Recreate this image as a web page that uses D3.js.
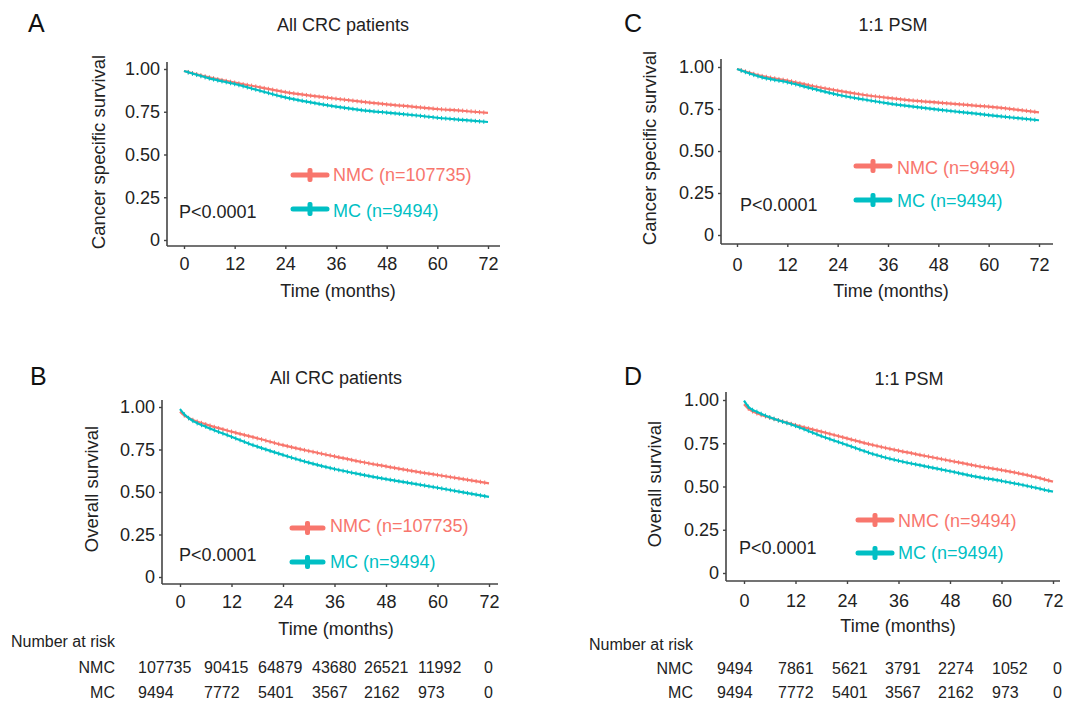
<!DOCTYPE html>
<html>
<head>
<meta charset="utf-8">
<script src="https://cdn.jsdelivr.net/npm/d3@7"></script>
<style>
  html, body { margin: 0; padding: 0; background: #fff; }
  svg { display: block; font-family: "Liberation Sans", Arial, Helvetica, sans-serif; }
</style>
</head>
<body>
<svg id="chart" width="1067" height="702"></svg>
<script>
// ---------------- DATA ----------------
const groups = ["NMC", "MC"];
const xTicks = [0, 12, 24, 36, 48, 60, 72];
const yTicks = [0, 0.25, 0.5, 0.75, 1];

// Cancer specific survival (panels A, C): months
const timesCSS = [0, 6, 12, 18, 24, 30, 36, 42, 48, 54, 60, 66, 72];
// Overall survival (panels B, D): months
const timesOS = [0, 1, 3, 6, 12, 18, 24, 30, 36, 42, 48, 54, 60, 66, 72];

// Panel A – All CRC patients, cancer specific survival
const cssAllNMC = [0.988, 0.951, 0.920, 0.893, 0.865, 0.844, 0.826, 0.809, 0.793, 0.780, 0.766, 0.756, 0.743];
const cssAllMC  = [0.988, 0.945, 0.912, 0.873, 0.834, 0.805, 0.780, 0.760, 0.745, 0.731, 0.715, 0.702, 0.690];
// Panel C – 1:1 PSM, cancer specific survival
const cssPsmNMC = [0.988, 0.946, 0.919, 0.887, 0.859, 0.835, 0.816, 0.800, 0.788, 0.776, 0.764, 0.748, 0.730];
const cssPsmMC  = [0.988, 0.938, 0.909, 0.871, 0.835, 0.808, 0.784, 0.764, 0.746, 0.730, 0.714, 0.698, 0.683];
// Panel B – All CRC patients, overall survival
const osAllNMC = [0.973, 0.950, 0.924, 0.898, 0.855, 0.816, 0.776, 0.741, 0.710, 0.678, 0.651, 0.624, 0.600, 0.576, 0.551];
const osAllMC  = [0.988, 0.957, 0.918, 0.884, 0.825, 0.767, 0.718, 0.673, 0.635, 0.604, 0.576, 0.551, 0.525, 0.498, 0.471];
// Panel D – 1:1 PSM, overall survival
const osPsmNMC = [0.975, 0.950, 0.923, 0.898, 0.855, 0.817, 0.778, 0.740, 0.707, 0.678, 0.649, 0.620, 0.595, 0.566, 0.528];
const osPsmMC  = [0.996, 0.961, 0.932, 0.900, 0.850, 0.792, 0.740, 0.688, 0.649, 0.618, 0.588, 0.557, 0.532, 0.503, 0.470];

// Number at risk tables
const riskAllNMC = ["107735", "90415", "64879", "43680", "26521", "11992", "0"];
const riskAllMC  = ["9494", "7772", "5401", "3567", "2162", "973", "0"];
const riskPsmNMC = ["9494", "7861", "5621", "3791", "2274", "1052", "0"];
const riskPsmMC  = ["9494", "7772", "5401", "3567", "2162", "973", "0"];

// Legend labels
const legendAll = ["NMC (n=107735)", "MC (n=9494)"];
const legendPsm = ["NMC (n=9494)", "MC (n=9494)"];

// ---------------- STYLE ----------------
const colors = { NMC: "#F8766D", MC: "#00BFC4" };
const axisColor = "#444";
const textColor = "#222";

const svg = d3.select("#chart");

function panel(cfg) {
  const g = svg.append("g");
  const x = d3.scaleLinear().domain([0, 72]).range([cfg.x0, cfg.x1]);
  const y = d3.scaleLinear().domain([0, 1]).range([cfg.y0, cfg.y1]);

  // axis lines
  g.append("line").attr("x1", cfg.ax).attr("x2", cfg.ax).attr("y1", cfg.axTop).attr("y2", cfg.axY)
    .attr("stroke", axisColor).attr("stroke-width", 1.6);
  g.append("line").attr("x1", cfg.ax).attr("x2", cfg.axRight).attr("y1", cfg.axY).attr("y2", cfg.axY)
    .attr("stroke", axisColor).attr("stroke-width", 1.6);

  // y axis ticks
  const ya = g.append("g").attr("transform", `translate(${cfg.ax},0)`)
    .call(d3.axisLeft(y).tickValues(yTicks)
      .tickFormat(d => d === 0 ? "0" : d3.format(".2f")(d))
      .tickSize(3).tickPadding(4));
  ya.select(".domain").remove();
  ya.selectAll(".tick line").attr("stroke", axisColor).attr("stroke-width", 1.4);
  ya.selectAll(".tick text").attr("font-size", 18).attr("fill", textColor)
    .attr("font-family", "Liberation Sans, Arial, sans-serif");

  // x axis ticks
  const xa = g.append("g").attr("transform", `translate(0,${cfg.axY})`)
    .call(d3.axisBottom(x).tickValues(xTicks).tickSize(3).tickSizeOuter(0));
  xa.select(".domain").remove();
  xa.selectAll(".tick line").attr("stroke", axisColor).attr("stroke-width", 1.4);
  xa.selectAll(".tick text").attr("font-size", 18).attr("fill", textColor)
    .attr("font-family", "Liberation Sans, Arial, sans-serif")
    .attr("y", cfg.xLabBase - cfg.axY).attr("dy", 0);

  // curves
  const line = d3.line().x(d => x(d[0])).y(d => y(d[1])).curve(d3.curveMonotoneX);
  cfg.series.forEach(s => {
    const pts = s.times.map((t, i) => [t, s.values[i]]);
    const path = g.append("path").datum(pts)
      .attr("d", line).attr("fill", "none")
      .attr("stroke", colors[s.group]).attr("stroke-width", 2.2);
    // small censor marks along curve (decorative, once per month)
    const node = path.node();
    const total = node.getTotalLength();
    const marks = [];
    for (let m = 1; m < 72; m++) {
      const tx = x(m);
      let lo = 0, hi = total;
      for (let k = 0; k < 25; k++) {
        const mid = (lo + hi) / 2;
        if (node.getPointAtLength(mid).x < tx) lo = mid; else hi = mid;
      }
      marks.push(node.getPointAtLength(lo));
    }
    g.append("g").selectAll("line").data(marks).join("line")
      .attr("x1", d => d.x).attr("x2", d => d.x)
      .attr("y1", d => d.y - 2.2).attr("y2", d => d.y + 2.2)
      .attr("stroke", colors[s.group]).attr("stroke-width", 1);
  });

  // titles
  g.append("text").attr("x", cfg.letterX).attr("y", cfg.letterY).text(cfg.letter)
    .attr("font-size", 25).attr("fill", "#111");
  g.append("text").attr("x", cfg.titleX).attr("y", cfg.titleY).text(cfg.title)
    .attr("text-anchor", "middle").attr("font-size", 18).attr("fill", textColor);
  g.append("text").attr("x", cfg.xTitleX).attr("y", cfg.xTitleY).text("Time (months)")
    .attr("text-anchor", "middle").attr("font-size", 18).attr("fill", textColor);
  g.append("text").attr("transform", `translate(${cfg.yTitleX},${cfg.yTitleY}) rotate(-90)`)
    .attr("dy", "0.35em").text(cfg.yTitle)
    .attr("text-anchor", "middle").attr("font-size", 18.5).attr("fill", textColor);

  // p-value
  g.append("text").attr("x", cfg.pX).attr("y", cfg.pY).text("P<0.0001")
    .attr("font-size", 18).attr("fill", textColor);

  // legend
  groups.forEach((grp, i) => {
    const ly = cfg.legY[i];
    const cx = (cfg.legX0 + cfg.legX1) / 2;
    g.append("line").attr("x1", cfg.legX0).attr("x2", cfg.legX1).attr("y1", ly).attr("y2", ly)
      .attr("stroke", colors[grp]).attr("stroke-width", 5).attr("stroke-linecap", "round");
    g.append("rect").attr("x", cx - 2.5).attr("y", ly - 7).attr("width", 5).attr("height", 14)
      .attr("rx", 2).attr("fill", colors[grp]);
    g.append("text").attr("x", cfg.legTextX).attr("y", cfg.legBase[i]).text(cfg.legend[i])
      .attr("font-size", 18).attr("fill", colors[grp]);
  });

  // risk table
  if (cfg.risk) {
    const r = cfg.risk;
    g.append("text").attr("x", r.headX).attr("y", r.headY).text("Number at risk")
      .attr("font-size", 16).attr("fill", textColor);
    r.rows.forEach((row, ri) => {
      g.append("text").attr("x", r.labelRight).attr("y", r.rowY[ri]).text(groups[ri])
        .attr("text-anchor", "end").attr("font-size", 16).attr("fill", textColor);
      row.forEach((v, ci) => {
        const last = ci === row.length - 1;
        g.append("text").attr("x", r.cols[ci]).attr("y", r.rowY[ri]).text(v)
          .attr("text-anchor", last ? "end" : "start")
          .attr("font-size", 16).attr("fill", textColor);
      });
    });
  }
}

// Panel A
panel({
  letter: "A", letterX: 28, letterY: 32,
  title: "All CRC patients", titleX: 343, titleY: 31,
  yTitle: "Cancer specific survival", yTitleX: 99, yTitleY: 152,
  xTitleX: 338, xTitleY: 297,
  x0: 184, x1: 488, y0: 240, y1: 69,
  ax: 167, axTop: 62, axY: 246, axRight: 500, xLabBase: 270,
  series: [
    { group: "NMC", times: timesCSS, values: cssAllNMC },
    { group: "MC", times: timesCSS, values: cssAllMC }
  ],
  pX: 179, pY: 218,
  legend: legendAll, legX0: 293, legX1: 327, legY: [175, 209], legTextX: 333, legBase: [181, 217]
});

// Panel C
panel({
  letter: "C", letterX: 624, letterY: 32,
  title: "1:1 PSM", titleX: 893, titleY: 31,
  yTitle: "Cancer specific survival", yTitleX: 650, yTitleY: 148,
  xTitleX: 891, xTitleY: 297,
  x0: 737, x1: 1039, y0: 235, y1: 67,
  ax: 721, axTop: 59, axY: 244, axRight: 1053, xLabBase: 271,
  series: [
    { group: "NMC", times: timesCSS, values: cssPsmNMC },
    { group: "MC", times: timesCSS, values: cssPsmMC }
  ],
  pX: 740, pY: 211,
  legend: legendPsm, legX0: 856, legX1: 890, legY: [166, 200], legTextX: 897, legBase: [174, 207]
});

// Panel B
panel({
  letter: "B", letterX: 30, letterY: 385,
  title: "All CRC patients", titleX: 336, titleY: 384,
  yTitle: "Overall survival", yTitleX: 92, yTitleY: 489,
  xTitleX: 336, xTitleY: 635,
  x0: 180, x1: 489, y0: 577, y1: 407,
  ax: 162, axTop: 400, axY: 584, axRight: 498, xLabBase: 608,
  series: [
    { group: "NMC", times: timesOS, values: osAllNMC },
    { group: "MC", times: timesOS, values: osAllMC }
  ],
  pX: 179, pY: 561,
  legend: legendAll, legX0: 292, legX1: 323, legY: [528, 562], legTextX: 330, legBase: [532, 568],
  risk: {
    headX: 11, headY: 647, labelRight: 115, rowY: [673, 698],
    rows: [riskAllNMC, riskAllMC],
    cols: [138, 204, 258, 312, 364, 418, 493]
  }
});

// Panel D
panel({
  letter: "D", letterX: 624, letterY: 385,
  title: "1:1 PSM", titleX: 909, titleY: 385,
  yTitle: "Overall survival", yTitleX: 655, yTitleY: 484,
  xTitleX: 898, xTitleY: 632,
  x0: 744, x1: 1053, y0: 573, y1: 400,
  ax: 726, axTop: 392, axY: 581, axRight: 1060, xLabBase: 607,
  series: [
    { group: "NMC", times: timesOS, values: osPsmNMC },
    { group: "MC", times: timesOS, values: osPsmMC }
  ],
  pX: 739, pY: 554,
  legend: legendPsm, legX0: 858, legX1: 892, legY: [520, 553], legTextX: 898, legBase: [527, 559],
  risk: {
    headX: 589, headY: 650, labelRight: 693, rowY: [674, 698],
    rows: [riskPsmNMC, riskPsmMC],
    cols: [717, 778, 832, 885, 938, 992, 1062]
  }
});
</script>
</body>
</html>
